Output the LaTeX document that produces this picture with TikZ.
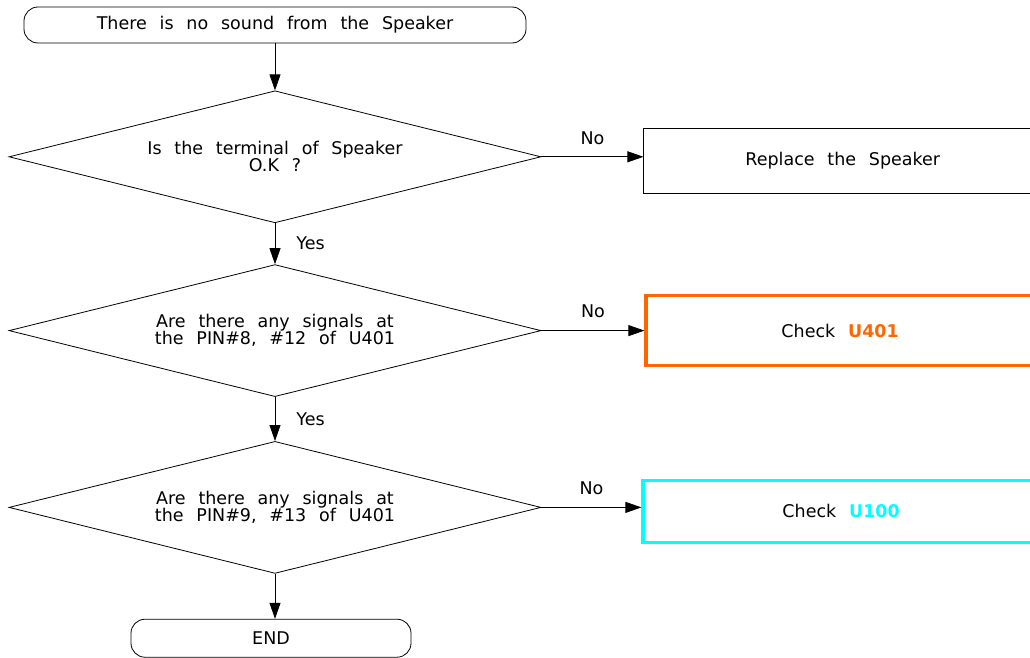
\documentclass[tikz,border=0pt]{standalone}
\usepackage{fontspec}
\setmainfont{DejaVu Sans}[WordSpace=2.3]
\usetikzlibrary{arrows.meta, positioning, shapes.geometric}
\definecolor{chkorange}{RGB}{255,102,0}
\definecolor{chkcyan}{RGB}{0,255,255}

\begin{document}
\begin{tikzpicture}[
  font=\fontsize{17.5}{17}\selectfont,
  line width=0.8pt,
  term/.style  = {rectangle, rounded corners=14pt, draw, minimum height=36pt, inner sep=0pt},
  quest/.style = {diamond, draw, aspect=4, minimum width=532pt, minimum height=132pt,
                  align=center, inner sep=0pt},
  act/.style   = {rectangle, draw, inner sep=0pt},
  arr/.style   = {-{Triangle[length=16pt, width=11pt]}},
  lbl/.style   = {inner sep=0pt}
]
\path[use as bounding box, clip] (0pt,0pt) rectangle (1030pt,-658pt);

\node[term, minimum width=502pt] (start) at (275pt,-25pt) {There is no sound from the Speaker};
\node[quest, below=47pt of start] (q1) {Is the terminal of Speaker\\O.K ?};
\node[quest, below=41pt of q1]    (q2) {Are there any signals at\\the PIN\#8, \#12 of U401};
\node[quest, below=44pt of q2]    (q3) {Are there any signals at\\the PIN\#9, \#13 of U401};
\node[term, minimum width=280pt, minimum height=38pt, below=45pt of q3, xshift=-4pt] (stop) {END};

\node[act, minimum width=398pt, minimum height=65pt, right=102pt of q1, yshift=-4pt] (rep) {Replace the Speaker};
\node[act, draw=chkorange, line width=3.5pt, minimum width=388pt, minimum height=70pt,
      right=103pt of q2] (u401) {Check \textcolor{chkorange}{\bfseries U401}};
\node[act, draw=chkcyan, line width=3.5pt, minimum width=396pt, minimum height=62pt,
      right=100pt of q3, yshift=-4pt] (u100) {Check \textcolor{chkcyan}{\bfseries U100}};

% main flow
\draw[arr] (start) -- (q1);
\draw[arr] (q1) -- (q2) node[lbl, midway, right=21pt] {Yes};
\draw[arr] (q2) -- (q3) node[lbl, midway, right=21pt] {Yes};
\draw[arr] (q3.south) -- (q3.south |- stop.north);

% no branches
\draw[arr] (q1.east) -- (q1.east -| rep.west)  node[lbl, midway, above=12pt] {No};
\draw[arr] (q2.east) -- (q2.east -| u401.west) node[lbl, midway, above=12pt] {No};
\draw[arr] (q3.east) -- (q3.east -| u100.west) node[lbl, midway, above=12pt] {No};
\end{tikzpicture}
\end{document}
